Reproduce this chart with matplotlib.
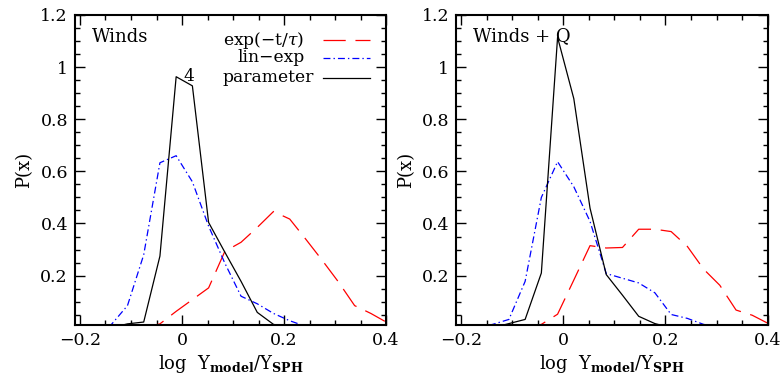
import matplotlib
matplotlib.use("Agg")

import matplotlib.pyplot as plt
from matplotlib.ticker import MultipleLocator, FixedLocator

plt.rcParams['font.family'] = ['DejaVu Serif']
plt.rcParams['mathtext.fontset'] = 'custom'
plt.rcParams['mathtext.rm'] = 'DejaVu Serif'
plt.rcParams['mathtext.it'] = 'DejaVu Serif:italic'
plt.rcParams['mathtext.bf'] = 'DejaVu Serif:bold'
plt.rcParams['lines.scale_dashes'] = False

FS = 13
FS_TICK = 12.5
FS_LEG = 12.3

# --- bin centres (log Y_model / Y_SPH) ---
x_bins = [-0.2023, -0.1705, -0.1387, -0.1069, -0.0751, -0.0433, -0.0115,
          0.0203, 0.0521, 0.0839, 0.1157, 0.1475, 0.1793, 0.2111, 0.2429,
          0.2747, 0.3065, 0.3383, 0.3701, 0.4019, 0.4337]

# --- panel 1: Winds ---
exp_winds = [0, 0, 0, 0, 0, 0.015, 0.063, 0.108, 0.153, 0.293, 0.328, 0.385,
             0.446, 0.417, 0.339, 0.259, 0.176, 0.085, 0.055, 0.020, 0]
linexp_winds = [0, 0, 0.012, 0.085, 0.28, 0.633, 0.66, 0.56, 0.39, 0.248, 0.121,
                0.092, 0.055, 0.027, 0.005, 0, 0, 0, 0, 0, 0]
param_winds = [0, 0, 0, 0.015, 0.022, 0.275, 0.963, 0.928, 0.404, 0.29, 0.178,
               0.059, 0.013, 0, 0, 0, 0, 0, 0, 0, 0]

# --- panel 2: Winds + Q ---
exp_windsq = [0, 0, 0, 0, 0, 0.013, 0.052, 0.183, 0.315, 0.306, 0.308, 0.378,
              0.378, 0.369, 0.312, 0.225, 0.163, 0.068, 0.048, 0.016, 0]
linexp_windsq = [0, 0, 0.013, 0.032, 0.178, 0.50, 0.637, 0.541, 0.408, 0.208, 0.19,
                 0.172, 0.134, 0.051, 0.036, 0.013, 0, 0, 0, 0, 0]
param_windsq = [0, 0, 0, 0.016, 0.032, 0.21, 1.114, 0.879, 0.459, 0.204, 0.125,
                0.044, 0.016, 0, 0, 0, 0, 0, 0, 0, 0]

panel_titles = ["Winds", "Winds + Q"]
legend_labels = [r"exp(−t/$\tau$)", "lin−exp", "parameter"]
xtick_vals = [-0.2, 0, 0.2, 0.4]
xtick_text = ["−0.2", "0", "0.2", "0.4"]
ytick_vals = [0.2, 0.4, 0.6, 0.8, 1.0, 1.2]
ytick_text = ["0.2", "0.4", "0.6", "0.8", "1", "1.2"]

styles = [dict(color="red", lw=0.9, dashes=(16, 7)),
          dict(color="blue", lw=0.9, dashes=(5, 2.2, 1, 2.2)),
          dict(color="black", lw=0.9)]

fig = plt.figure(figsize=(7.8, 3.83), dpi=100)
ax1 = fig.add_axes([0.096, 0.151, 0.399, 0.810])
ax2 = fig.add_axes([0.585, 0.151, 0.399, 0.810])

panels = [(ax1, [exp_winds, linexp_winds, param_winds]),
          (ax2, [exp_windsq, linexp_windsq, param_windsq])]

for i, (ax, series) in enumerate(panels):
    for ys, st in zip(series, styles):
        ax.plot(x_bins, ys, **st)
    ax.set_xlim(-0.21, 0.4)
    ax.set_ylim(0.01, 1.2)
    ax.xaxis.set_major_locator(FixedLocator(xtick_vals))
    ax.set_xticklabels(xtick_text)
    ax.xaxis.set_minor_locator(MultipleLocator(0.05))
    ax.yaxis.set_major_locator(FixedLocator(ytick_vals))
    ax.set_yticklabels(ytick_text)
    ax.yaxis.set_minor_locator(MultipleLocator(0.05))
    ax.tick_params(which="both", direction="in", top=True, right=True,
                   labelsize=FS_TICK, width=1.0)
    ax.tick_params(which="major", length=7.2)
    ax.tick_params(which="minor", length=3.6)
    ax.tick_params(axis="x", pad=5)
    ax.tick_params(axis="y", pad=5)
    for sp in ax.spines.values():
        sp.set_linewidth(1.5)
    ax.set_ylabel("P(x)", fontsize=FS, labelpad=5)
    ax.set_xlabel(r"log  $\mathrm{Y}_{\mathbf{model}}/\mathrm{Y}_{\mathbf{SPH}}$",
                  fontsize=FS, labelpad=3)
    ax.text(0.055, 0.93, panel_titles[i], transform=ax.transAxes,
            fontsize=FS, ha="left", va="center")

# --- legend, drawn by hand on the first panel ---
leg_y = [0.919, 0.862, 0.797]
leg_text_x = [0.737, 0.737, 0.767]
for lab, st, ty, tx in zip(legend_labels, styles, leg_y, leg_text_x):
    ax1.text(tx, ty, lab, transform=ax1.transAxes, fontsize=FS_LEG,
             ha="right", va="center")
    ax1.plot([0.797, 0.949], [ty, ty], transform=ax1.transAxes, **st)

# stray "4" of "4 parameter" sitting beside the peak
ax1.text(0.013, 0.965, "4", fontsize=FS_LEG, ha="center", va="center")

fig.savefig("out.png", dpi=100)
